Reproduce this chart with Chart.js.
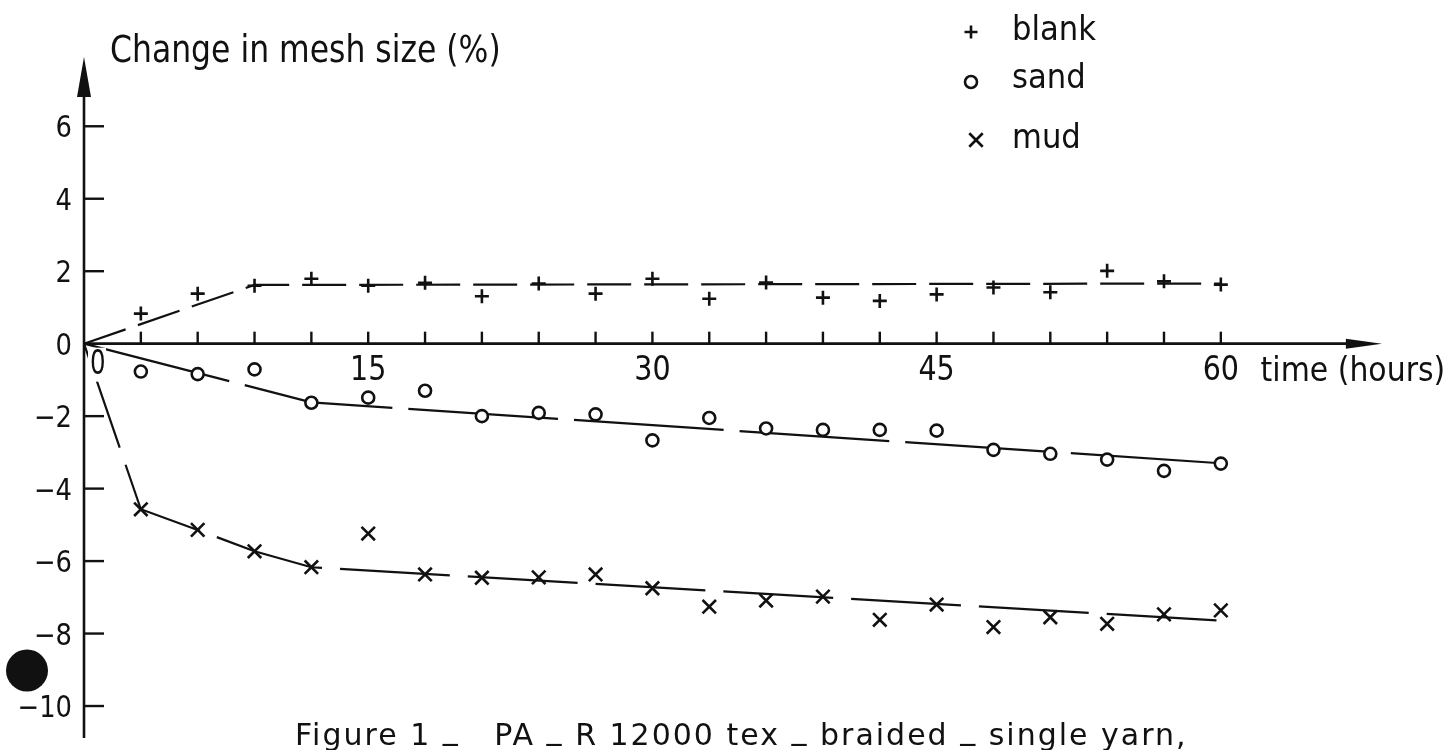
<!DOCTYPE html>
<html>
<head>
<meta charset="utf-8">
<script src="https://cdn.jsdelivr.net/npm/chart.js@4.4.1/dist/chart.umd.min.js"></script>
<style>
  html, body { margin: 0; padding: 0; background: #fff; }
  #wrap { width: 1455px; height: 750px; position: relative; }
</style>
</head>
<body>
<div id="wrap"><canvas id="chart"></canvas></div>
<script>
'use strict';

// measured hours (one reading every 3 h)
const HOURS = [3, 6, 9, 12, 15, 18, 21, 24, 27, 30, 33, 36, 39, 42, 45, 48, 51, 54, 57, 60];

// change in mesh size (%)
const BLANK = [0.83, 1.38, 1.60, 1.79, 1.60, 1.68, 1.31, 1.66, 1.38, 1.79, 1.24, 1.69, 1.27, 1.18, 1.36, 1.55, 1.42, 2.01, 1.72, 1.63];
const SAND = [-0.77, -0.84, -0.71, -1.63, -1.49, -1.30, -2.00, -1.91, -1.95, -2.67, -2.05, -2.34, -2.38, -2.38, -2.40, -2.93, -3.04, -3.20, -3.51, -3.31];
const MUD = [-4.57, -5.14, -5.73, -6.17, -5.24, -6.37, -6.46, -6.45, -6.37, -6.75, -7.26, -7.09, -6.98, -7.62, -7.20, -7.82, -7.55, -7.73, -7.47, -7.36];

// hand-drawn trend lines
const BLANK_FIT_HOURS = [0, 9, 60];
const BLANK_FIT = [0, 1.62, 1.66];
const SAND_FIT_HOURS = [0, 12, 60];
const SAND_FIT = [0, -1.62, -3.30];
const MUD_FIT_HOURS = [0, 3, 6, 9, 12, 60.5];
const MUD_FIT = [0, -4.57, -5.14, -5.73, -6.17, -7.66];

const SERIES_NAMES = ['blank', 'sand', 'mud'];
const SERIES_MARKERS = ['cross', 'circle', 'crossRot'];

const X_TICK_MARKS = [3, 6, 9, 12, 15, 18, 21, 24, 27, 30, 33, 36, 39, 42, 45, 48, 51, 54, 57, 60];
const X_TICK_LABELS = ['15', '30', '45', '60'];
const X_TICK_VALUES = [15, 30, 45, 60];
const Y_TICK_VALUES = [6, 4, 2, 0, -2, -4, -6, -8, -10];

const Y_TITLE = 'Change in mesh size (%)';
const X_TITLE = 'time (hours)';
const CAPTION = 'Figure 1 _   PA _ R 12000 tex _ braided _ single yarn,';

const INK = '#111';
const FONT = '"DejaVu Sans", "Noto Sans", sans-serif';

function points(xs, ys) {
  return xs.map((x, i) => ({ x, y: ys[i] }));
}

function drawText(ctx, str, x, y, size, sx, align, spacing) {
  ctx.save();
  ctx.font = `${size}px ${FONT}`;
  if (spacing) ctx.letterSpacing = spacing;
  ctx.fillStyle = INK;
  ctx.textAlign = 'left';
  ctx.textBaseline = 'alphabetic';
  const w = ctx.measureText(str).width * sx;
  let left = x;
  if (align === 'center') left = x - w / 2;
  else if (align === 'right') left = x - w;
  ctx.translate(left, y);
  ctx.scale(sx, 1);
  ctx.fillText(str, 0, 0);
  ctx.restore();
  return w;
}

// caption: the typed underscores sit on the baseline, not below it
function drawCaption(ctx, str, x, y, size, spacing) {
  const parts = str.split(/(_)/);
  let left = x;
  parts.forEach(part => {
    if (!part) return;
    const lift = part === '_' ? -6 : 0;
    left += drawText(ctx, part, left, y + lift, size, 1, 'left', spacing);
  });
}

function markerSet(label, values, style, radius) {
  return {
    label,
    data: points(HOURS, values),
    pointStyle: style,
    pointRadius: radius,
    pointHoverRadius: radius,
    pointBorderColor: INK,
    pointBackgroundColor: '#fff',
    pointBorderWidth: 2.6,
    showLine: false,
    clip: false,
    order: 0,
  };
}

function lineSet(label, xs, ys, dash) {
  return {
    label,
    data: points(xs, ys),
    showLine: true,
    borderColor: INK,
    borderWidth: 2.2,
    borderDash: dash,
    pointRadius: 0,
    pointHoverRadius: 0,
    clip: false,
    order: 1,
  };
}

const paperPlugin = {
  id: 'paper',
  beforeDatasetsDraw(chart) {
    const { ctx, scales: { x, y }, chartArea } = chart;
    const x0 = x.getPixelForValue(0);
    const y0 = y.getPixelForValue(0);
    ctx.save();
    ctx.strokeStyle = INK;
    ctx.fillStyle = INK;
    ctx.lineWidth = 2.6;
    ctx.lineCap = 'butt';

    // y axis with arrow
    const yTip = y.getPixelForValue(7.91);
    ctx.beginPath();
    ctx.moveTo(x0, chartArea.bottom);
    ctx.lineTo(x0, yTip + 20);
    ctx.stroke();
    ctx.beginPath();
    ctx.moveTo(x0, yTip);
    ctx.lineTo(x0 - 7, yTip + 40);
    ctx.lineTo(x0 + 7, yTip + 40);
    ctx.closePath();
    ctx.fill();

    // x axis with arrow
    const xTip = x.getPixelForValue(68.5);
    ctx.beginPath();
    ctx.moveTo(x0, y0);
    ctx.lineTo(xTip - 20, y0);
    ctx.stroke();
    ctx.beginPath();
    ctx.moveTo(xTip, y0);
    ctx.lineTo(xTip - 36, y0 - 5);
    ctx.lineTo(xTip - 36, y0 + 5);
    ctx.closePath();
    ctx.fill();

    // tick marks
    ctx.lineWidth = 2.4;
    X_TICK_MARKS.forEach(v => {
      const px = x.getPixelForValue(v);
      ctx.beginPath();
      ctx.moveTo(px, y0);
      ctx.lineTo(px, y0 - 12);
      ctx.stroke();
    });
    Y_TICK_VALUES.forEach(v => {
      if (v === 0) return;
      const py = y.getPixelForValue(v);
      ctx.beginPath();
      ctx.moveTo(x0, py);
      ctx.lineTo(x0 + 20, py);
      ctx.stroke();
    });

    // ink blot from the scan, left of the axis
    ctx.beginPath();
    ctx.arc(x0 - 57, y.getPixelForValue(-9.02), 21, 0, Math.PI * 2);
    ctx.fill();
    ctx.restore();
  },
  afterDatasetsDraw(chart) {
    const { ctx, scales: { x, y } } = chart;
    const x0 = x.getPixelForValue(0);
    const y0 = y.getPixelForValue(0);

    // y tick labels
    Y_TICK_VALUES.forEach(v => {
      const label = v < 0 ? '\u2212' + Math.abs(v) : String(v);
      drawText(ctx, label, x0 - 12, y.getPixelForValue(v) + 11, 30, 0.86, 'right');
    });

    // x tick labels
    X_TICK_VALUES.forEach((v, i) => {
      drawText(ctx, X_TICK_LABELS[i], x.getPixelForValue(v), y0 + 36, 34, 0.84, 'center');
    });
    // the origin "0", with a paper gap under it
    ctx.save();
    ctx.fillStyle = '#fff';
    ctx.fillRect(x0 + 4, y0 + 4, 18, 34);
    ctx.restore();
    drawText(ctx, '0', x0 + 6, y0 + 30, 34, 0.72, 'left');

    drawText(ctx, X_TITLE, x.getPixelForValue(62.1), y0 + 37, 34, 0.88, 'left');
    drawText(ctx, Y_TITLE, x0 + 26, 62, 37, 0.85, 'left');
    drawCaption(ctx, CAPTION, x0 + 211, 745, 30, '2px');

    // legend
    const legendY = [32, 82, 140];
    const legendR = [6.5, 6, 9.5];
    const legendX = [971, 971, 976];
    SERIES_NAMES.forEach((name, i) => {
      ctx.save();
      ctx.strokeStyle = INK;
      ctx.fillStyle = '#fff';
      ctx.lineWidth = 2.6;
      Chart.helpers.drawPoint(ctx, {
        pointStyle: SERIES_MARKERS[i], radius: legendR[i], borderWidth: 2.6, rotation: 0,
      }, legendX[i], legendY[i]);
      ctx.restore();
      drawText(ctx, name, 1012, [40, 88, 148][i], 33, 0.93, 'left');
    });
  },
};

new Chart(document.getElementById('chart'), {
  type: 'scatter',
  data: {
    datasets: [
      lineSet('blank trend', BLANK_FIT_HOURS, BLANK_FIT, [44, 13]),
      lineSet('sand trend', SAND_FIT_HOURS, SAND_FIT, [150, 16]),
      lineSet('mud trend', MUD_FIT_HOURS, MUD_FIT, [110, 18]),
      markerSet(SERIES_NAMES[0], BLANK, SERIES_MARKERS[0], 7),
      markerSet(SERIES_NAMES[1], SAND, SERIES_MARKERS[1], 6),
      markerSet(SERIES_NAMES[2], MUD, SERIES_MARKERS[2], 9.5),
    ],
  },
  options: {
    responsive: true,
    maintainAspectRatio: false,
    animation: false,
    events: [],
    layout: { padding: { left: 84, right: 44.7, top: 53.8, bottom: 0 } },
    plugins: {
      legend: { display: false },
      tooltip: { enabled: false },
    },
    scales: {
      x: { type: 'linear', min: 0, max: 70, display: false },
      y: { type: 'linear', min: -10.88, max: 8, display: false },
    },
  },
  plugins: [paperPlugin],
});
</script>
</body>
</html>
